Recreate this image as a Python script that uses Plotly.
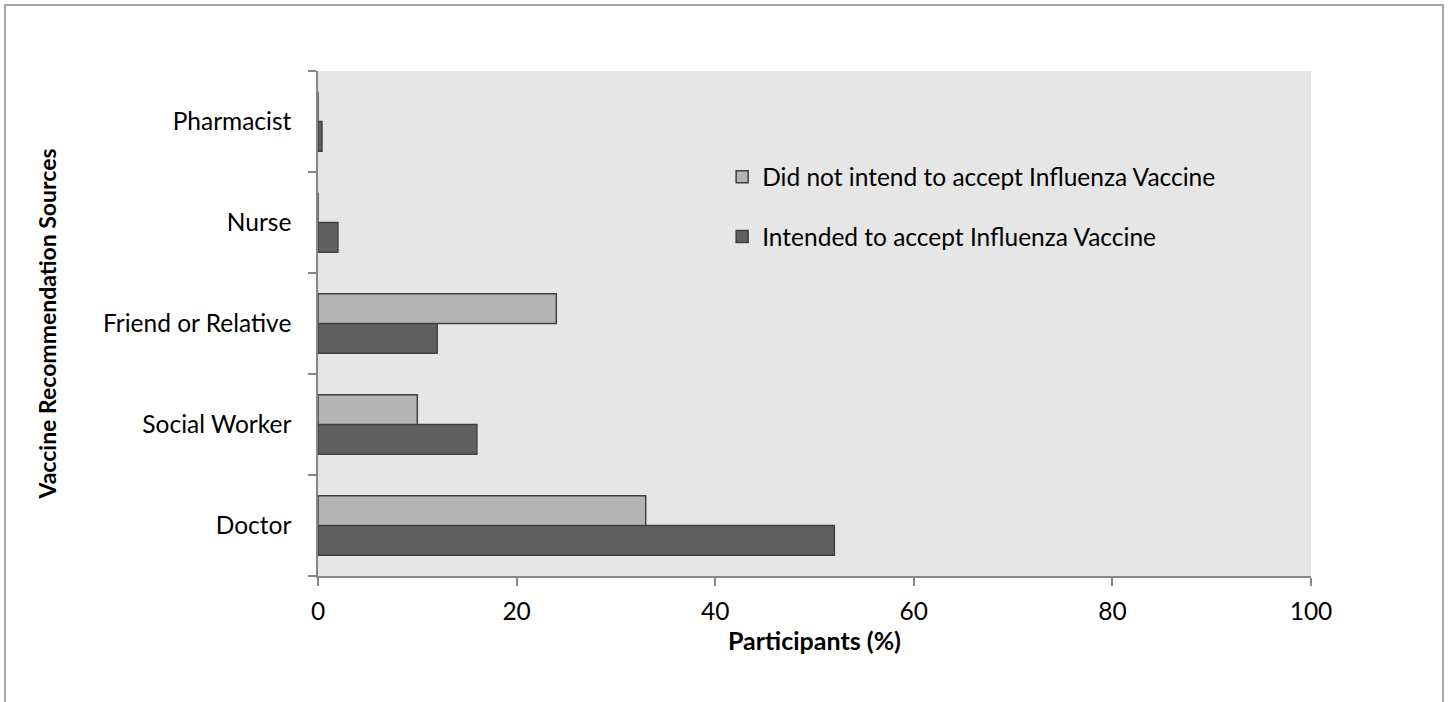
import plotly.graph_objects as go

categories = ["Doctor", "Social Worker", "Friend or Relative", "Nurse", "Pharmacist"]
intended = [52, 16, 12, 2, 0.4]
not_intended = [33, 10, 24, 0, 0]
x_ticks = [0, 20, 40, 60, 80, 100]

FONT = "Lato"
AXIS = "#878787"
TICK_SIZE = 24.5

fig = go.Figure()
fig.add_trace(go.Bar(
    y=categories, x=intended, orientation="h",
    name="Intended to accept Influenza Vaccine",
    marker=dict(color="#606060", line=dict(color="#404040", width=1.5)),
    legendgroup="a", legendrank=2,
))
fig.add_trace(go.Bar(
    y=categories, x=not_intended, orientation="h",
    name="Did not intend to accept Influenza Vaccine",
    marker=dict(color="#b4b4b4", line=dict(color="#404040", width=1.5)),
    legendgroup="b", legendrank=1,
))

fig.update_layout(
    width=1452, height=702,
    margin=dict(l=318, r=141, t=71, b=126),
    paper_bgcolor="white",
    plot_bgcolor="#e6e6e6",
    barmode="group",
    bargap=0.41,
    bargroupgap=0,
    font=dict(family=FONT, size=TICK_SIZE, color="black"),
    showlegend=True,
    legend=dict(
        x=0.407, y=0.835, xanchor="left", yanchor="top",
        bgcolor="rgba(0,0,0,0)",
        traceorder="grouped",
        tracegroupgap=25,
        font=dict(family=FONT, size=TICK_SIZE, color="black"),
        itemwidth=30,
    ),
    xaxis=dict(
        range=[0, 100], tickvals=x_ticks, ticktext=[str(v) for v in x_ticks],
        showgrid=False, zeroline=False,
        showline=True, linecolor=AXIS, linewidth=1.5,
        ticks="outside", ticklen=8, tickcolor=AXIS, tickwidth=1.5,
        ticklabelstandoff=5,
        title=dict(text="<b>Participants (%)</b>", font=dict(family=FONT, size=25), standoff=3),
    ),
    yaxis=dict(
        categoryorder="array", categoryarray=categories,
        showgrid=False, zeroline=False,
        showline=True, linecolor=AXIS, linewidth=1.5,
        ticks="outside", ticklen=8, tickcolor=AXIS, tickwidth=1.5,
        tickson="boundaries",
        ticklabelstandoff=20,
        title=dict(text="<b>Vaccine Recommendation Sources</b>", font=dict(family=FONT, size=23), standoff=40),
    ),
)

fig.add_shape(
    type="rect", xref="paper", yref="paper",
    x0=(5 - 318) / 993, x1=(1443 - 318) / 993,
    y0=-0.3, y1=(576 - 5) / 505,
    line=dict(color="#8a8a8a", width=1.5), fillcolor="rgba(0,0,0,0)", layer="below",
)

fig.write_html(
    "out.html",
    config={"displayModeBar": False},
    post_script="document.body.style.margin='0';document.body.style.overflow='hidden';",
)
